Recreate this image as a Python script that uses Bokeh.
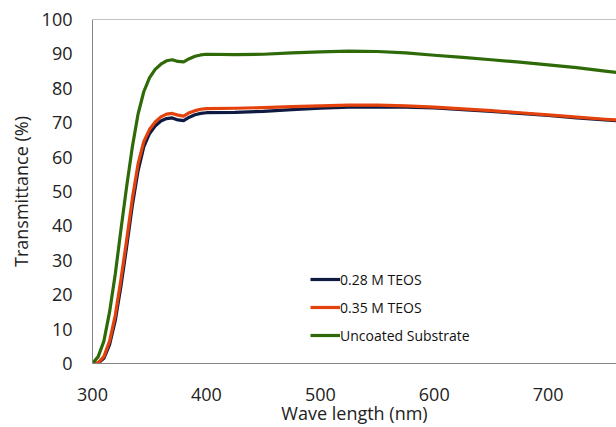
from bokeh.plotting import figure
from bokeh.models import Range1d, Span, Legend, LegendItem, FixedTicker
from bokeh.embed import file_html
from bokeh.resources import INLINE

wavelength = [300, 305, 310, 315, 320, 325, 330, 335, 340, 345, 350, 355, 360, 365, 370,
              375, 380, 385, 390, 395, 400, 425, 450, 475, 500, 525, 550, 575, 600, 625,
              650, 675, 700, 725, 750, 760]
teos_028 = [0, 0.1, 1.5, 5.5, 12.5, 22.5, 34, 46, 56, 63, 66.8, 69, 70.5, 71.2, 71.4,
            70.8, 70.6, 71.6, 72.3, 72.7, 72.9, 73.0, 73.3, 73.8, 74.2, 74.5, 74.6, 74.5, 74.3, 73.8,
            73.3, 72.7, 72.1, 71.4, 70.8, 70.6]
teos_035 = [0, 0.2, 2, 6.5, 14, 24.5, 36, 48, 58, 64.5, 68, 70.2, 71.7, 72.5, 72.7,
            72.2, 71.9, 72.9, 73.5, 73.9, 74.1, 74.2, 74.4, 74.7, 74.9, 75.1, 75.1, 74.9, 74.5, 74.0,
            73.5, 72.9, 72.3, 71.6, 71.0, 70.8]
uncoated = [0, 2, 6.5, 15, 26, 39, 51.5, 63, 72.5, 79, 83, 85.5, 87, 88, 88.3,
            87.8, 87.7, 88.6, 89.3, 89.7, 89.9, 89.8, 89.9, 90.3, 90.6, 90.8, 90.7, 90.3, 89.6, 89.0,
            88.3, 87.6, 86.8, 86.0, 85.0, 84.6]
series_names = ["0.28 M TEOS", "0.35 M TEOS", "Uncoated Substrate"]
series_colors = ["#0e1a42", "#e3420c", "#2f6a08"]
x_ticks = [300, 400, 500, 600, 700]
y_ticks = [0, 10, 20, 30, 40, 50, 60, 70, 80, 90, 100]

FONT = "Open Sans"

p = figure(width=616, height=427, output_backend="svg", toolbar_location=None,
           x_range=Range1d(300, 760), y_range=Range1d(0, 100),
           min_border_left=92, min_border_right=0, min_border_top=19, min_border_bottom=63)
p.outline_line_color = None
p.grid.visible = False
p.background_fill_color = "white"
p.border_fill_color = "white"

renderers = []
for ys, c in zip([teos_028, teos_035, uncoated], series_colors):
    r = p.line(wavelength, ys, line_color=c, line_width=3.2, line_join="round")
    renderers.append(r)

p.add_layout(Span(location=100, dimension="width", line_color="#868686", line_width=1))

for ax in (p.xaxis[0], p.yaxis[0]):
    ax.axis_line_color = "#868686"
    ax.major_tick_line_color = None
    ax.minor_tick_line_color = None
    ax.major_tick_out = 0
    ax.major_tick_in = 0
    ax.major_label_text_font = FONT
    ax.major_label_text_font_size = "18px"
    ax.major_label_text_color = "#222222"
    ax.axis_label_text_font = FONT
    ax.axis_label_text_font_size = "18px"
    ax.axis_label_text_font_style = "normal"
    ax.axis_label_text_color = "#222222"

p.xaxis.ticker = FixedTicker(ticks=x_ticks)
p.yaxis.ticker = FixedTicker(ticks=y_ticks)
p.xaxis.axis_label = "Wave length (nm)"
p.yaxis.axis_label = "Transmittance (%)"
p.xaxis.major_label_standoff = 24
p.xaxis.axis_label_standoff = -3
p.yaxis.major_label_standoff = 20
p.yaxis.axis_label_standoff = 6

legend = Legend(items=[LegendItem(label=n, renderers=[r]) for n, r in zip(series_names, renderers)],
                location=(218, 18), border_line_color=None, background_fill_alpha=0,
                padding=0, margin=0, spacing=8, glyph_width=30, glyph_height=20,
                label_standoff=0, label_text_font=FONT, label_text_font_size="14px",
                label_text_color="#111111")
p.add_layout(legend)

open("out.html", "w").write(file_html(p, INLINE))
